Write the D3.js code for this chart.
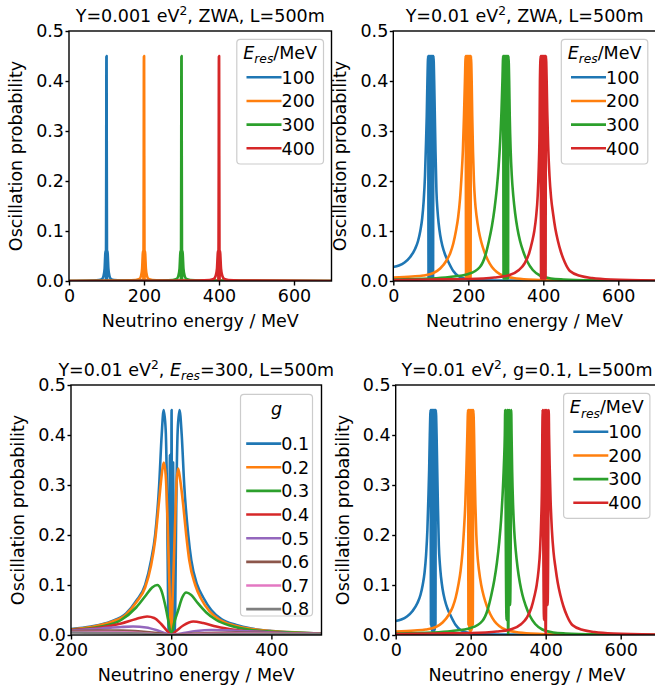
<!DOCTYPE html>
<html>
<head>
<meta charset="utf-8">
<script src="https://cdn.jsdelivr.net/npm/d3@7"></script>
<style>
  body { margin: 0; background: #fff; }
  svg text { font-family: "DejaVu Sans", sans-serif; fill: #000; }
</style>
</head>
<body>
<svg id="chart" width="655" height="686"></svg>
<script>
// ---- data: [energy MeV, probability] ----

// panel 1: Y=0.001 eV^2, ZWA (very narrow spikes)
const p1_100 = [[0,0],[60,.001],[80,.002],[88,.004],[92,.01],[95,.025],[96.5,.05],[97.3,.06],[97.9,.03],[98.3,0],[98.8,.08],[99.3,.25],[99.7,.45],[100,.15],[100.3,.45],[100.7,.25],[101.2,.08],[101.7,0],[102.1,.03],[102.7,.06],[103.5,.05],[105,.025],[108,.01],[112,.004],[120,.002],[140,.001],[700,0]];
const p1_200 = [[0,0],[150,.001],[178,.002],[188,.004],[192,.01],[195,.025],[196.5,.05],[197.3,.06],[197.9,.03],[198.3,0],[198.8,.08],[199.3,.25],[199.7,.45],[200,.15],[200.3,.45],[200.7,.25],[201.2,.08],[201.7,0],[202.1,.03],[202.7,.06],[203.5,.05],[205,.025],[208,.01],[212,.004],[222,.002],[245,.001],[700,0]];
const p1_300 = [[0,0],[250,.001],[277,.002],[287,.004],[291.5,.01],[294.8,.025],[296.4,.05],[297.2,.06],[297.8,.03],[298.3,0],[298.8,.08],[299.3,.25],[299.7,.45],[300,.15],[300.3,.45],[300.7,.25],[301.2,.08],[301.7,0],[302.2,.03],[302.8,.06],[303.6,.05],[305.2,.025],[308.5,.01],[313,.004],[323,.002],[350,.001],[700,0]];
const p1_400 = [[0,0],[345,.001],[375,.002],[386,.004],[391,.01],[394.6,.025],[396.3,.05],[397.1,.06],[397.8,.03],[398.3,0],[398.8,.08],[399.3,.25],[399.7,.45],[400,.15],[400.3,.45],[400.7,.25],[401.2,.08],[401.7,0],[402.2,.03],[402.9,.06],[403.7,.05],[405.4,.025],[409,.01],[414,.004],[425,.002],[455,.001],[700,0]];

// panels 2 and 4: Lorentz-like wings (left / right of the oscillating core)
const w100L = [[0,.028],[15,.031],[30,.037],[45,.048],[58,.064],[66,.08],[72,.1],[77,.125],[81,.16],[84.5,.21],[87,.27],[89.2,.33],[91,.4]];
const w100R = [[109,.4],[110.5,.34],[112.5,.26],[115,.18],[118,.14],[121,.115],[125,.092],[131,.07],[138,.053],[147,.038],[160,.02],[173,.01],[190,.005],[220,.002],[300,.001],[700,0]];
const w200L = [[0,.007],[50,.009],[80,.011],[107,.016],[125,.025],[142,.041],[152,.056],[160,.075],[167,.1],[173,.128],[178,.165],[182,.21],[185.5,.26],[188.5,.33],[191,.4]];
const w200R = [[209,.4],[210.5,.33],[212.5,.26],[215,.2],[218,.16],[222,.13],[228,.1],[235,.077],[243,.058],[252,.042],[263,.028],[276,.018],[295,.01],[320,.006],[360,.003],[450,.001],[700,0]];
const w300L = [[0,.003],[100,.005],[150,.008],[200,.014],[231,.028],[245,.05],[255,.08],[263,.11],[270,.145],[276,.185],[281,.23],[285,.28],[288.5,.34],[291,.4]];
const w300R = [[309,.4],[310.5,.33],[313,.26],[316,.21],[320,.17],[325,.135],[331,.105],[338,.08],[347,.058],[358,.038],[372,.022],[391,.011],[420,.005],[453,.003],[550,.001],[700,0]];
const w400L = [[0,.002],[100,.003],[200,.004],[270,.007],[310,.012],[335,.022],[350,.035],[362,.055],[370,.078],[376,.1],[381,.13],[385,.17],[388,.23],[390,.3],[391,.4]];
const w400R = [[409,.4],[410.5,.34],[413,.27],[416.5,.21],[421,.165],[426,.135],[432,.105],[439,.08],[447,.058],[457,.038],[471,.02],[500,.01],[530,.006],[580,.003],[700,.001]];

// panel 2 cores: fast oscillation filling a solid band
const band2_100 = [[93,.45],[94,.005],[95,.45],[96,.005],[97,.45],[98,.005],[99,.45],[100,.005],[101,.45],[102,.005],[103,.45],[104,.005],[105,.45],[106,.005],[107,.45]];
const band2_200 = [[193,.45],[194,.005],[195,.45],[196,.005],[197,.45],[198,.005],[199,.45],[200,.005],[201,.45],[202,.005],[203,.45],[204,.005],[205,.45],[206,.005],[207,.45]];
const band2_300 = [[293,.45],[294,.005],[295,.45],[296,.005],[297,.45],[298,.005],[299,.45],[300,.005],[301,.45],[302,.005],[303,.45],[304,.005],[305,.45],[306,.005],[307,.45]];
const band2_400 = [[393,.45],[394,.005],[395,.45],[396,.005],[397,.45],[398,.005],[399,.45],[400,.005],[401,.45],[402,.005],[403,.45],[404,.005],[405,.45],[406,.005],[407,.45]];

// panel 4 cores: dense for 100/200, a few separate strands for 300/400
const band4_100 = [[93,.45],[94,.02],[95,.45],[96,.01],[97,.45],[98,.005],[99,.45],[100,.005],[101,.45],[102,.005],[103,.45],[104,.01],[105,.45],[106,.02],[107,.45]];
const band4_200 = [[193,.45],[194,.02],[195,.45],[196.5,.01],[198,.45],[199.5,.005],[201,.45],[202.5,.01],[204,.45],[205.5,.02],[207,.45]];
const band4_300 = [[292,.45],[293.5,.2],[295.5,.03],[298,.45],[299.2,.04],[300,0],[300.8,.04],[303,.45],[305,.06],[306.8,.2],[308,.45]];
const band4_400 = [[392,.45],[393.5,.2],[395.5,.03],[398,.45],[399.2,.04],[400,0],[400.8,.04],[403,.45],[405,.06],[406.8,.2],[408,.45]];

// panel 3: Eres=300, different couplings g
const p3_g01 = [[200,.012],[220,.017],[240,.027],[255,.043],[265,.068],[274,.1],[280,.15],[284,.2],[288,.3],[290.5,.4],[292.5,.45],[294.5,.41],[296,.25],[297,.05],[297.6,0],[298.3,.25],[298.8,.36],[299.3,.1],[299.8,0],[300.4,.45],[300.8,.1],[301.3,0],[301.9,.345],[302.5,.2],[303.2,0],[304,.05],[305,.25],[306.5,.41],[308.3,.45],[310.5,.4],[313,.3],[317,.2],[320,.15],[326,.1],[332,.075],[340,.05],[350,.032],[365,.02],[380,.013],[400,.008],[425,.005],[450,.003]];
const p3_g02 = [[200,.011],[220,.016],[240,.026],[255,.041],[265,.065],[274,.095],[280,.14],[284,.19],[288,.27],[290.5,.32],[292.5,.345],[294.5,.32],[296.5,.22],[298.5,.08],[300,0],[301.5,.08],[303.5,.2],[305.5,.31],[307,.333],[309,.31],[312,.26],[315,.2],[318,.15],[324,.1],[330,.072],[338,.048],[348,.031],[363,.019],[380,.012],[400,.008],[425,.005],[450,.003]];
const p3_g03 = [[200,.01],[230,.017],[250,.03],[265,.055],[275,.08],[281,.095],[286,.1],[290,.09],[294,.06],[297,.03],[300,0],[303,.025],[307,.05],[311,.075],[315,.085],[320,.08],[326,.065],[335,.045],[345,.03],[360,.018],[380,.01],[400,.007],[450,.003]];
const p3_g04 = [[200,.01],[230,.015],[250,.023],[265,.032],[276,.037],[283,.034],[290,.022],[296,.008],[300,0],[305,.008],[312,.019],[322,.027],[332,.024],[345,.017],[365,.01],[400,.005],[450,.002]];
const p3_g05 = [[200,.009],[230,.013],[250,.016],[262,.017],[275,.015],[285,.01],[295,.003],[300,0],[310,.003],[325,.008],[340,.01],[360,.009],[400,.005],[450,.002]];
const p3_g06 = [[200,.008],[230,.009],[250,.009],[270,.007],[290,.003],[300,0],[315,.002],[340,.004],[365,.005],[400,.004],[450,.002]];
const p3_g07 = [[200,.006],[240,.006],[270,.004],[300,0],[330,.002],[370,.003],[450,.002]];
const p3_g08 = [[200,.005],[230,.004],[270,.003],[300,0],[340,.001],[400,.002],[450,.0015]];

const eresLabels = ["100", "200", "300", "400"];
const gLabels = ["0.1", "0.2", "0.3", "0.4", "0.5", "0.6", "0.7", "0.8"];
const yTicks = [0, 0.1, 0.2, 0.3, 0.4, 0.5];
const xTicksWide = [0, 200, 400, 600];
const xTicksZoom = [200, 300, 400];

const tab10 = ["#1f77b4", "#ff7f0e", "#2ca02c", "#d62728", "#9467bd", "#8c564b", "#e377c2", "#7f7f7f"];

// rich text pieces: [text, style] with style among "sup", "sub", "it"
const eresTitle = [["E", "it"], ["res", "it sub"], ["/MeV"]];
const gTitle = [["g", "it"]];

const panels = [
  { x: 69, y: 31, w: 262.5, h: 250, xDomain: [0, 700], xTicks: xTicksWide,
    title: [["Y=0.001 eV"], ["2", "sup"], [", ZWA, L=500m"]],
    series: [p1_100, p1_200, p1_300, p1_400], labels: eresLabels, legendTitle: eresTitle,
    legend: { right: 8, top: 8.3, w: 86.7, h: 124.7, lineX: 9.7, titleY: 19.5, rowY: 38 } },
  { x: 393.3, y: 31, w: 262.5, h: 250, xDomain: [0, 700], xTicks: xTicksWide,
    title: [["Y=0.01 eV"], ["2", "sup"], [", ZWA, L=500m"]],
    series: [w100L.concat(band2_100, w100R), w200L.concat(band2_200, w200R),
             w300L.concat(band2_300, w300R), w400L.concat(band2_400, w400R)],
    labels: eresLabels, legendTitle: eresTitle,
    legend: { right: 8, top: 8.3, w: 86.5, h: 124.7, lineX: 9.7, titleY: 19.5, rowY: 38 } },
  { x: 71, y: 385, w: 250.5, h: 250, xDomain: [200, 450], xTicks: xTicksZoom,
    title: [["Y=0.01 eV"], ["2", "sup"], [", "], ["E", "it"], ["res", "it sub"], ["=300, L=500m"]],
    series: [p3_g01, p3_g02, p3_g03, p3_g04, p3_g05, p3_g06, p3_g07, p3_g08],
    labels: gLabels, legendTitle: gTitle,
    legend: { right: 9, top: 9.3, w: 72, h: 221.7, lineX: 5.7, titleY: 21, rowY: 49.3 } },
  { x: 395.7, y: 385, w: 262.5, h: 250, xDomain: [0, 700], xTicks: xTicksWide,
    title: [["Y=0.01 eV"], ["2", "sup"], [", g=0.1, L=500m"]],
    series: [w100L.concat(band4_100, w100R), w200L.concat(band4_200, w200R),
             w300L.concat(band4_300, w300R), w400L.concat(band4_400, w400R)],
    labels: eresLabels, legendTitle: eresTitle,
    legend: { right: 8.3, top: 8.3, w: 86.3, h: 125, lineX: 9.7, titleY: 20, rowY: 38.5 } }
];

const FS = 17.5;
const svg = d3.select("#chart");
const defs = svg.append("defs");

function richText(sel, segs) {
  let shift = 0;
  segs.forEach(([t, style]) => {
    style = style || "";
    const ts = sel.append("tspan").text(t);
    let target = 0;
    if (style.includes("sup")) target = -7;
    if (style.includes("sub")) target = 4.5;
    if (target !== shift) ts.attr("dy", target - shift);
    shift = target;
    if (target !== 0) ts.attr("font-size", "70%");
    if (style.includes("it")) ts.attr("font-style", "italic");
  });
}

panels.forEach((p, i) => {
  const x = d3.scaleLinear().domain(p.xDomain).range([p.x, p.x + p.w]);
  const y = d3.scaleLinear().domain([0, 0.5]).range([p.y + p.h, p.y]);
  const g = svg.append("g");

  defs.append("clipPath").attr("id", "clip" + i)
    .append("rect").attr("x", p.x).attr("y", p.y).attr("width", p.w).attr("height", p.h);

  const line = d3.line().x(d => x(d[0])).y(d => y(d[1])).curve(d3.curveMonotoneX);
  g.append("g").attr("clip-path", `url(#clip${i})`)
    .selectAll("path").data(p.series).join("path")
    .attr("d", line)
    .attr("fill", "none")
    .attr("stroke", (d, k) => tab10[k])
    .attr("stroke-width", 2.6)
    .attr("stroke-linejoin", "round");

  // axes
  const xAxis = d3.axisBottom(x).tickValues(p.xTicks).tickFormat(d3.format("d"))
    .tickSizeInner(4.5).tickSizeOuter(0).tickPadding(4.5);
  const yAxis = d3.axisLeft(y).tickValues(yTicks).tickFormat(d3.format(".1f"))
    .tickSizeInner(3.5).tickSizeOuter(0).tickPadding(1.5);
  const gx = g.append("g").attr("transform", `translate(0,${p.y + p.h})`).call(xAxis);
  const gy = g.append("g").attr("transform", `translate(${p.x},0)`).call(yAxis);
  [gx, gy].forEach(a => {
    a.select(".domain").remove();
    a.selectAll("line").attr("stroke", "#000").attr("stroke-width", 1.4);
    a.selectAll("text").attr("font-size", FS).attr("font-family", "DejaVu Sans");
  });

  // frame
  g.append("rect").attr("x", p.x).attr("y", p.y).attr("width", p.w).attr("height", p.h)
    .attr("fill", "none").attr("stroke", "#000").attr("stroke-width", 1.4);

  // title and labels
  richText(g.append("text").attr("x", p.x + p.w / 2).attr("y", p.y - 9.5)
    .attr("text-anchor", "middle").attr("font-size", FS), p.title);
  g.append("text").attr("x", p.x + p.w / 2).attr("y", p.y + p.h + 46)
    .attr("text-anchor", "middle").attr("font-size", FS).text("Neutrino energy / MeV");
  g.append("text").attr("transform", `translate(${p.x - 47},${p.y + p.h / 2}) rotate(-90)`)
    .attr("text-anchor", "middle").attr("font-size", FS).text("Oscillation probability");

  // legend
  const L = p.legend;
  const lx = p.x + p.w - L.right - L.w, ly = p.y + L.top;
  const lg = g.append("g");
  lg.append("rect").attr("x", lx).attr("y", ly).attr("width", L.w).attr("height", L.h)
    .attr("rx", 3.5).attr("fill", "#fff").attr("fill-opacity", 0.8)
    .attr("stroke", "#cccccc").attr("stroke-width", 1.2);
  richText(lg.append("text").attr("x", lx + L.w / 2).attr("y", ly + L.titleY)
    .attr("text-anchor", "middle").attr("font-size", FS), p.legendTitle);
  p.labels.forEach((lab, k) => {
    const ry = ly + L.rowY + k * 23.65;
    lg.append("line").attr("x1", lx + L.lineX).attr("x2", lx + L.lineX + 35)
      .attr("y1", ry).attr("y2", ry).attr("stroke", tab10[k]).attr("stroke-width", 2.6);
    lg.append("text").attr("x", lx + L.lineX + 35).attr("y", ry + 6.3)
      .attr("font-size", FS).text(lab);
  });
});
</script>
</body>
</html>
